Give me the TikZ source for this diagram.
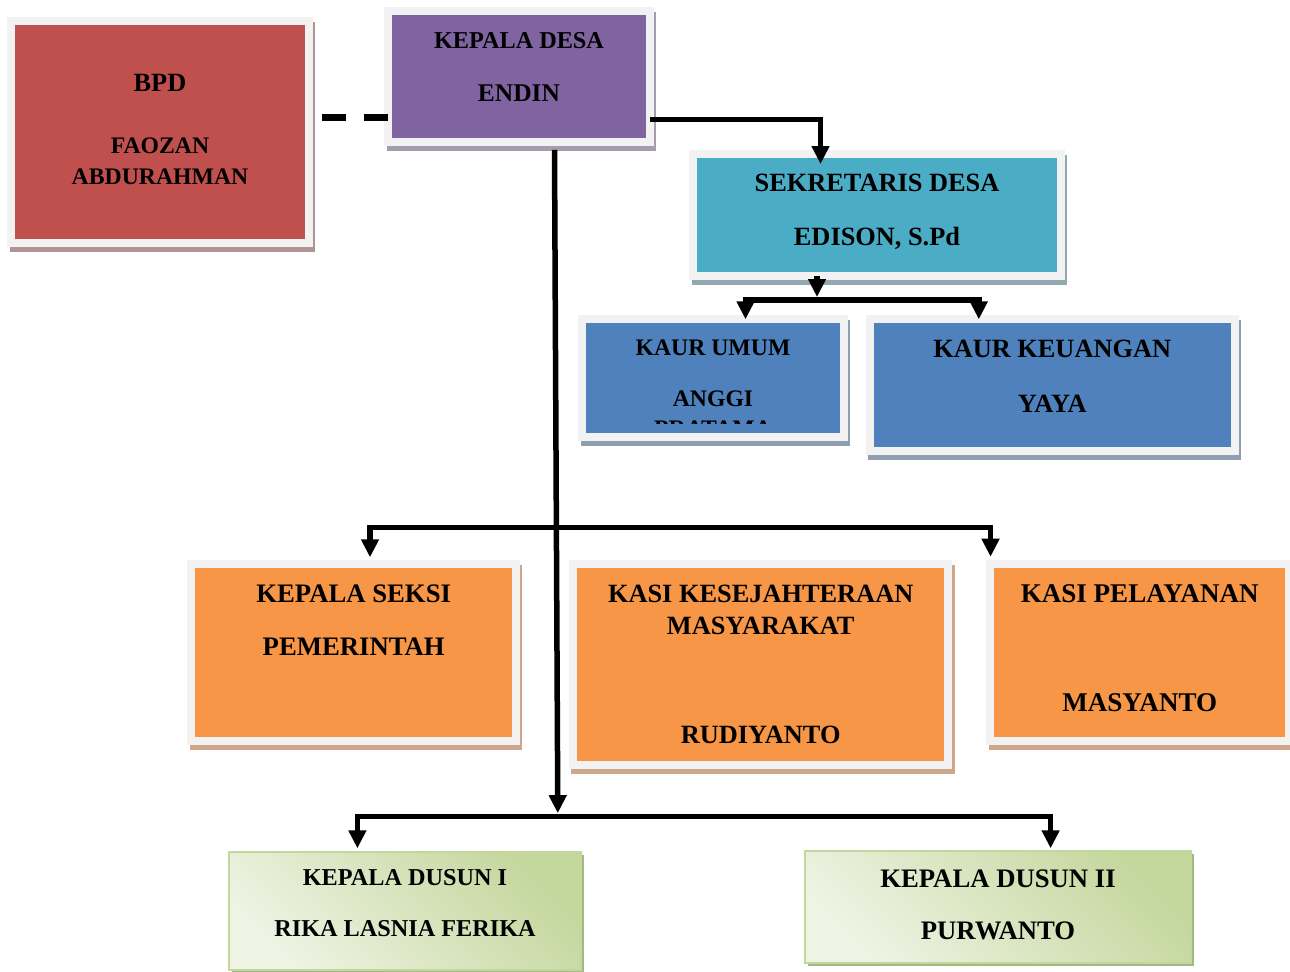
\documentclass[tikz,border=0pt]{standalone}
\usepackage{fontspec}
\setmainfont{Liberation Serif}
\usetikzlibrary{arrows.meta,shadows}

\definecolor{framegray}{HTML}{F2F2F2}
\definecolor{bpdred}{HTML}{C0504D}
\definecolor{bpdsh}{HTML}{B09494}
\definecolor{desapurple}{HTML}{8064A2}
\definecolor{desash}{HTML}{A59CB0}
\definecolor{sekcyan}{HTML}{4BACC6}
\definecolor{seksh}{HTML}{93A9B1}
\definecolor{kaurblue}{HTML}{4F81BD}
\definecolor{kaursh}{HTML}{909FAF}
\definecolor{kasiorange}{HTML}{F79646}
\definecolor{kasish}{HTML}{CFA689}
\definecolor{dusunlight}{HTML}{EEF3E3}
\definecolor{dusundark}{HTML}{C4D79D}
\definecolor{dusunline}{HTML}{C3D69B}
\definecolor{dusunsh}{HTML}{A3B985}

% height, width, top space, lines
\newcommand{\boxtext}[4]{\parbox[c][#1][t]{#2}{\centering\vspace*{#3}#4}}

\tikzset{
	orgbox/.style={draw=framegray, line width=0.16cm, inner sep=0pt, outer sep=0pt, font=\bfseries,
		drop shadow={shadow xshift=0.05cm, shadow yshift=-0.1cm, opacity=1, fill=#1, draw=#1, line width=0.16cm}},
	dusunbox/.style={draw=dusunline, line width=0.04cm, inner sep=0pt, outer sep=0pt, font=\bfseries,
		top color=dusundark, bottom color=dusunlight, shading angle=-45,
		drop shadow={shadow xshift=0.06cm, shadow yshift=-0.06cm, opacity=1, fill=dusunsh}},
	conn/.style={line width=0.11cm},
	arr/.style={conn, -{Triangle[length=0.36cm, width=0.34cm]}},
	dashline/.style={line width=0.13cm, dash pattern=on 0.486cm off 0.36cm, dash phase=0.592cm}
}

\begin{document}
\begin{tikzpicture}[x=0.02cm, y=-0.02cm]

	\useasboundingbox (0,0) rectangle (1290,972);

	\node[orgbox=bpdsh, fill=bpdred] (bpd) at (160,132)
		{\boxtext{4.44cm}{5.96cm}{1.06cm}{\fontsize{15}{18}\selectfont BPD\\[19.5pt]\fontsize{13.5}{16.2}\selectfont FAOZAN\\[1.3pt]ABDURAHMAN}};
	\node[orgbox=desash, fill=desapurple] (desa) at (519,76.5)
		{\boxtext{2.62cm}{5.24cm}{0.43cm}{\fontsize{13.8}{16.6}\selectfont KEPALA DESA\\[13.4pt]{\fontsize{14.5}{17.4}\selectfont ENDIN}}};
	\node[orgbox=seksh, fill=sekcyan] (sek) at (877,215)
		{\boxtext{2.46cm}{7.36cm}{0.42cm}{\fontsize{15}{18}\selectfont SEKRETARIS DESA\\[12.7pt]EDISON, S.Pd}};

	\node[orgbox=kaursh, fill=kaurblue, path picture={
		\clip (path picture bounding box.north west) rectangle ([yshift=-2.08cm]path picture bounding box.north east);
		\node[anchor=base, font=\bfseries\fontsize{13.5}{16.2}\selectfont] (pratama) at ([yshift=-2.342cm]path picture bounding box.north) {PRATAMA};
	}] (umum) at (713,378.3)
		{\boxtext{2.36cm}{5.24cm}{0.414cm}{\fontsize{13.5}{16.2}\selectfont KAUR UMUM\\[12.6pt]ANGGI}};
	\node[orgbox=kaursh, fill=kaurblue] (keu) at (1052.2,385.3)
		{\boxtext{2.64cm}{7.3cm}{0.41cm}{\fontsize{15}{18}\selectfont KAUR KEUANGAN\\[13.3pt]YAYA}};

	\node[orgbox=kasish, fill=kasiorange] (seksi) at (353.7,652.2)
		{\boxtext{3.54cm}{6.49cm}{0.42cm}{\fontsize{15.2}{18}\selectfont KEPALA SEKSI\\[12.4pt]PEMERINTAH}};
	\node[orgbox=kasish, fill=kasiorange] (kesej) at (760.7,664.3)
		{\boxtext{4.03cm}{7.51cm}{0.426cm}{\fontsize{15}{18}\selectfont KASI KESEJAHTERAAN\\[0.6pt]MASYARAKAT\\[44pt]RUDIYANTO}};
	\node[orgbox=kasish, fill=kasiorange] (pelay) at (1139.7,652.2)
		{\boxtext{3.54cm}{5.97cm}{0.42cm}{\fontsize{15.4}{18}\selectfont KASI PELAYANAN\\[44.2pt]MASYANTO}};

	\node[dusunbox] (dusun1) at (405,911)
		{\boxtext{2.38cm}{7.06cm}{0.36cm}{\fontsize{13.8}{16.2}\selectfont KEPALA DUSUN I\\[12.8pt]RIKA LASNIA FERIKA}};
	\node[dusunbox] (dusun2) at (998,907)
		{\boxtext{2.24cm}{7.72cm}{0.375cm}{\fontsize{15.2}{18}\selectfont KEPALA DUSUN II\\[11.8pt]PURWANTO}};

	\coordinate (dashstart) at ([yshift=0.286cm]bpd.east);
	\coordinate (kaursplit) at (817,300);
	\coordinate (kasisplit) at (556.4,527.5);
	\coordinate (dusunsplit) at (557.8,816.7);

	\draw[dashline] (dashstart) -- (dashstart -| desa.west); %BPD
	\draw[arr] ([yshift=-0.864cm]desa.east) -| ([xshift=-1.13cm, yshift=-0.21cm]sek.north);
	\draw[arr] ([xshift=0.71cm, yshift=-0.16cm]desa.south) -- ([yshift=0.07cm]dusunsplit); %garis utama

	\draw[arr] (sek.south -| kaursplit) -- ([yshift=0.06cm]kaursplit);
	\draw[arr] (kaursplit) -| ([xshift=0.65cm]umum.north);
	\draw[arr] (kaursplit) -| ([xshift=-1.468cm]keu.north);

	\draw[arr] (kasisplit) -| ([xshift=0.326cm, yshift=0.128cm]seksi.north);
	\draw[arr] (kasisplit) -| ([xshift=-2.984cm, yshift=0.14cm]pelay.north);

	\draw[arr] (dusunsplit) -| ([xshift=-0.952cm, yshift=0.064cm]dusun1.north);
	\draw[arr] (dusunsplit) -| ([xshift=1.052cm, yshift=0.054cm]dusun2.north);

\end{tikzpicture}
\end{document}
